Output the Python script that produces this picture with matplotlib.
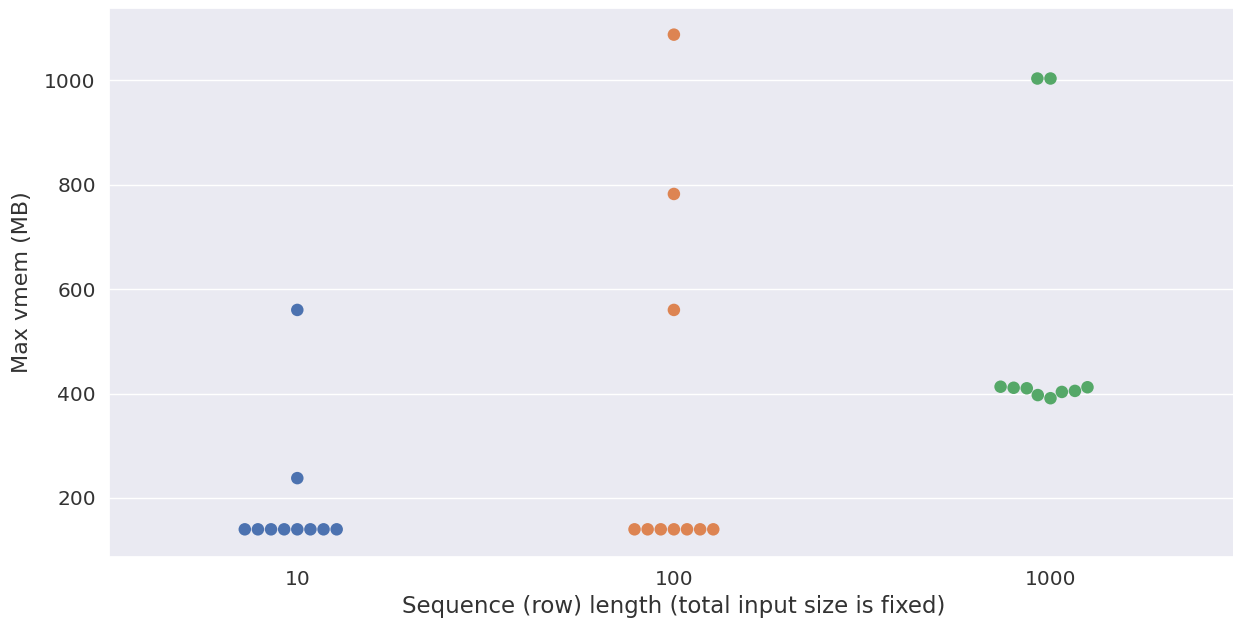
import numpy as np
import pandas as pd
import matplotlib
matplotlib.use("Agg")
import matplotlib.pyplot as plt
import seaborn as sns

# peak virtual memory per run, grouped by sequence length
seq_10 = [140, 140, 140, 140, 140, 140, 140, 140, 238, 560]
seq_100 = [140, 140, 140, 140, 140, 140, 140, 560, 782, 1087]
seq_1000 = [391, 397, 403, 405, 410, 411, 412, 413, 1003, 1003]
lengths = ["10", "100", "1000"]

df = pd.DataFrame({
    "length": ["10"] * len(seq_10) + ["100"] * len(seq_100) + ["1000"] * len(seq_1000),
    "vmem": seq_10 + seq_100 + seq_1000,
})

sns.set_theme(style="darkgrid", palette="deep")

fig = plt.figure(figsize=(12.33, 6.2), dpi=100)
# the axes runs a little past the right edge of the canvas
ax = fig.add_axes([0.0884, 0.1016, 0.9163, 0.8855])

sns.swarmplot(data=df, x="length", y="vmem", hue="length", order=lengths,
              hue_order=lengths, size=9, legend=False, ax=ax)

ax.set_ylim(87, 1138)
ax.set_yticks([200, 400, 600, 800, 1000])
ax.set_xlabel("Sequence (row) length (total input size is fixed)", fontsize=16.5, color="#333333")
ax.set_ylabel("Max vmem (MB)", fontsize=16, color="#333333", labelpad=9)
ax.tick_params(labelsize=14.5, colors="#333333")

fig.savefig("out.png", dpi=100)
